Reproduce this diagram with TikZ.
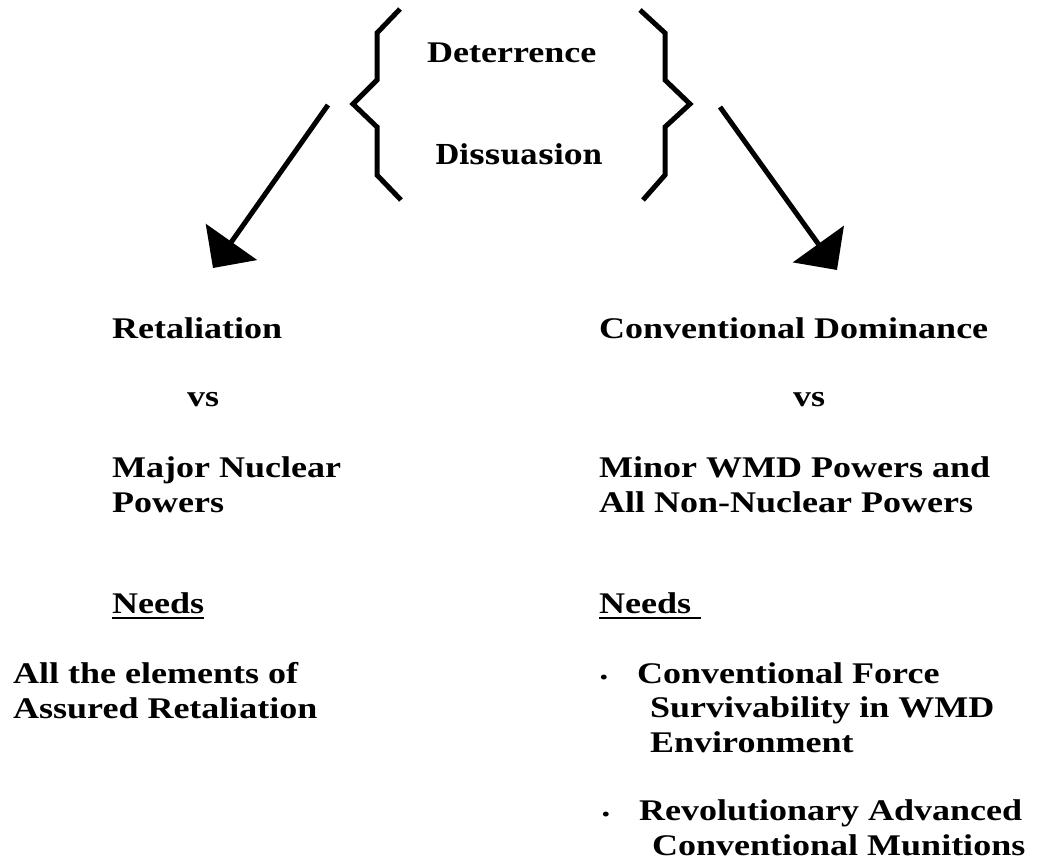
\documentclass[tikz,border=0pt]{standalone}
\usepackage{fontspec}
\setmainfont{Liberation Serif}[FakeStretch=1.2]
\newfontfamily\slabfont{DejaVu Serif}
\usetikzlibrary{arrows.meta}

\begin{document}
\begin{tikzpicture}[x=1pt, y=-1pt]
\tikzstyle{txtstyle}=[anchor=base west, inner sep=0pt, align=left, font=\fontsize{30}{34.5}\selectfont\bfseries]
\tikzstyle{bulstyle}=[anchor=base west, inner sep=0pt, font=\fontsize{18}{20}\selectfont\bfseries]
\tikzstyle{bracestyle}=[line width=5pt]
\tikzstyle{drawstyle}=[line width=5pt, -{Triangle[length=32pt, width=62pt]}]
\tikzstyle{linestyle}=[line width=2.5pt]

\useasboundingbox (0,0) rectangle (1039,861);

% the two braces
\draw[bracestyle] (400,9) -- (377,33) -- (377,80) -- (353,104) -- (377,127) -- (377,175) -- (401,200);
\draw[bracestyle] (640,10) -- (665,33) -- (665,80) -- (690,104) -- (665,127) -- (665,175) -- (643,200);
\node[txtstyle] (Deter) at (427,63) {Deterrence};
\node[txtstyle, font=\fontsize{27.5}{30}\selectfont\slabfont\bfseries] (Dissu) at (435,165) {Dissuasion};

\coordinate (Lstart) at (328,105);
\coordinate (Ltip) at (213,268);
\coordinate (Rstart) at (720,107);
\coordinate (Rtip) at (837,270);
\draw[drawstyle] (Lstart) -- (Ltip);
\draw[drawstyle] (Rstart) -- (Rtip);

% left column (multi-line nodes sit on their last line)
\node[txtstyle] (Retal) at (112,338) {Retaliation};
\node[txtstyle] (vsL) at (187,406) {vs};
\node[txtstyle] (Major) at (112,512) {Major Nuclear\\Powers};
\node[txtstyle] (NeedsL) at (112,613) {Needs};
\draw[linestyle] ([yshift=-5pt]NeedsL.base west) -- ([yshift=-5pt]NeedsL.base east);
\node[txtstyle] (Elems) at (13,718) {All the elements of\\Assured Retaliation};

% right column
\node[txtstyle] (Conv) at (599,338) {Conventional Dominance};
\node[txtstyle] (vsR) at (793,406) {vs};
\node[txtstyle] (Minor) at (599,512) {Minor WMD Powers and\\All Non-Nuclear Powers};
\node[txtstyle] (NeedsR) at (599,613) {Needs\hspace*{10pt}};
\draw[linestyle] ([yshift=-5pt]NeedsR.base west) -- ([yshift=-5pt]NeedsR.base east);
\node[bulstyle] (Bul1) at (600,683) {\textbullet};
\node[txtstyle] (Surv) at (637,752) {Conventional Force\\\hspace*{13pt}Survivability in WMD\\\hspace*{13pt}Environment};
\node[bulstyle] (Bul2) at (602,820) {\textbullet};
\node[txtstyle] (Revo) at (639,855) {Revolutionary Advanced\\\hspace*{13pt}Conventional Munitions};
\end{tikzpicture}
\end{document}
